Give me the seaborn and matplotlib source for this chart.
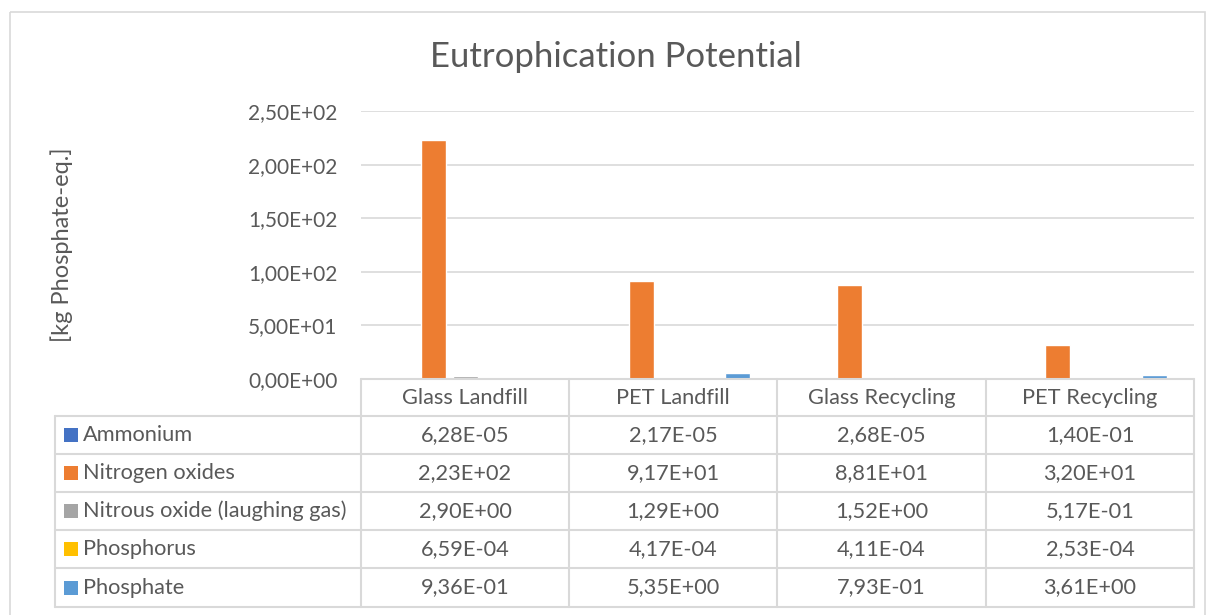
import numpy as np
import pandas as pd
import seaborn as sns
from matplotlib import pyplot as plt
from matplotlib.lines import Line2D
from matplotlib.patches import Rectangle
from matplotlib.ticker import FuncFormatter

scenarios = ['Glass Landfill', 'PET Landfill', 'Glass Recycling', 'PET Recycling']
substances = ['Ammonium', 'Nitrogen oxides', 'Nitrous oxide (laughing gas)',
              'Phosphorus', 'Phosphate']
ammonium = [6.28e-05, 2.17e-05, 2.68e-05, 1.40e-01]
nitrogen_oxides = [2.23e+02, 9.17e+01, 8.81e+01, 3.20e+01]
nitrous_oxide = [2.90e+00, 1.29e+00, 1.52e+00, 5.17e-01]
phosphorus = [6.59e-04, 4.17e-04, 4.11e-04, 2.53e-04]
phosphate = [9.36e-01, 5.35e+00, 7.93e-01, 3.61e+00]
colors = ['#4472C4', '#ED7D31', '#A5A5A5', '#FFC000', '#5B9BD5']
y_ticks = [0, 50, 100, 150, 200, 250]

TEXT = '#595959'
GRID = '#d9d9d9'
W, H = 1209, 615
FS = 15.7


def sci_comma(v):
    '''Excel style scientific number with decimal comma'''
    return f'{v:.2E}'.replace('.', ',')


def main():
    series = [ammonium, nitrogen_oxides, nitrous_oxide, phosphorus, phosphate]
    rows = []
    for name, vals in zip(substances, series):
        for sc, v in zip(scenarios, vals):
            rows.append({'scenario': sc, 'substance': name, 'value': v})
    df = pd.DataFrame(rows)

    sns.set_style('white')
    plt.rcParams['font.family'] = ['Lato', 'DejaVu Sans']

    fig = plt.figure(figsize=(W / 100, H / 100), dpi=100)

    # bar area in pixel terms: x 361..1194, y 111..379
    ax = fig.add_axes([361 / W, 1 - 379 / H, 833 / W, 268 / H])
    sns.barplot(data=df, x='scenario', y='value', hue='substance',
                order=scenarios, hue_order=substances, palette=colors,
                saturation=1, width=0.77, gap=0.22, ax=ax, legend=False,
                zorder=3)
    ax.set_ylim(0, 250)
    ax.set_xlim(-0.5, 3.5)
    ax.set_yticks(y_ticks)
    ax.yaxis.set_major_formatter(FuncFormatter(lambda v, p: sci_comma(v)))
    ax.tick_params(axis='y', length=0, pad=17, labelsize=15, labelcolor=TEXT)
    ax.set_xticks([])
    ax.set_xlabel('')
    ax.grid(axis='y', color=GRID, lw=1.2, zorder=0)
    for s in ax.spines.values():
        s.set_visible(False)
    ax.set_ylabel('[kg Phosphate-eq.]', fontsize=17, color=TEXT)
    ax.yaxis.set_label_coords(-0.346, 0.5)

    fig.text(616 / W, 1 - 57 / H, 'Eutrophication Potential', fontsize=25,
             color=TEXT, ha='center', va='center')

    # data table below the bars, drawn on an overlay in pixel coords
    tab = fig.add_axes([0, 0, 1, 1])
    tab.set_xlim(0, W)
    tab.set_ylim(H, 0)
    tab.axis('off')
    tab.patch.set_alpha(0)

    # outer chart frame
    tab.add_patch(Rectangle((10, 12), 1195, 620, fill=False, ec=GRID, lw=1.2))

    col_x = [361, 569, 777, 986, 1194]
    row_y = [379, 416, 454, 492, 530, 568, 607]
    lw = 1.5
    tab.add_line(Line2D([361, 1194], [379, 379], color=GRID, lw=lw))
    for y in row_y[1:]:
        tab.add_line(Line2D([55, 1194], [y, y], color=GRID, lw=lw))
    tab.add_line(Line2D([55, 55], [416, 607], color=GRID, lw=lw))
    for x in col_x:
        tab.add_line(Line2D([x, x], [379, 607], color=GRID, lw=lw))

    for i, sc in enumerate(scenarios):
        cx = (col_x[i] + col_x[i + 1]) / 2
        tab.text(cx, (row_y[0] + row_y[1]) / 2, sc, ha='center', va='center',
                 fontsize=FS, color=TEXT)

    for r, (name, vals, c) in enumerate(zip(substances, series, colors)):
        cy = (row_y[r + 1] + row_y[r + 2]) / 2
        tab.add_patch(Rectangle((64, cy - 7), 14, 14, color=c, lw=0))
        tab.text(83, cy, name, ha='left', va='center', fontsize=FS, color=TEXT)
        for i, v in enumerate(vals):
            cx = (col_x[i] + col_x[i + 1]) / 2
            tab.text(cx, cy, sci_comma(v), ha='center', va='center',
                     fontsize=FS, color=TEXT)

    fig.savefig('out.png', dpi=100, facecolor='white')


if __name__ == '__main__':
    main()
